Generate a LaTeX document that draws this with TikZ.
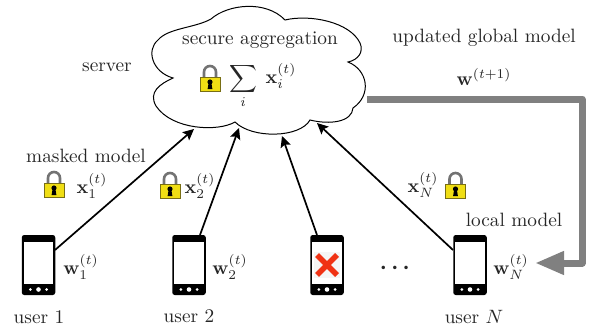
\documentclass[tikz,border=0pt]{standalone}
\usepackage{amsmath,bm}
\usetikzlibrary{arrows.meta}
\definecolor{lockyellow}{RGB}{240,222,20}
\definecolor{lockedge}{RGB}{120,110,20}
\definecolor{flowgray}{RGB}{128,128,128}
\definecolor{xred}{RGB}{240,50,20}
\definecolor{xbg}{RGB}{245,245,245}
\newcommand{\phoneparts}[1]{%
  \fill[white] ([xshift=2.2pt,yshift=-7pt]#1.north west) rectangle ([xshift=-2.2pt,yshift=11pt]#1.south east);
  \fill[white] ([yshift=5.7pt]#1.south) circle (2.3pt);
  \fill[white] ([xshift=-8.2pt,yshift=5.7pt]#1.south) circle (1.5pt);
  \fill[white] ([xshift=8.2pt,yshift=5.7pt]#1.south) circle (1.5pt);
}
\tikzset{
  txt/.style={scale=1.93,text=black!85,inner sep=0pt},
  phonebody/.style={fill=black,rounded corners=2.5pt,minimum width=33.5pt,minimum height=60pt,inner sep=0pt},
  link/.style={line width=1.7pt,draw=black,-{Stealth[length=11pt,width=10.5pt,inset=2pt]}},
  lockbody/.style={fill=lockyellow,draw=lockedge,line width=0.6pt},
  lockarc/.style={draw=black!55,line width=2.6pt},
  lockhole/.style={fill=black},
  lock/.pic={
    \draw[lockarc] (-6,-1) -- (-6,-7) arc[start angle=180,end angle=0,x radius=6pt,y radius=6pt] -- (6,-1);
    \draw[lockbody] (-10,-2) rectangle (10,12);
    \fill[lockhole] (0,3) circle (2.6pt);
    \fill[lockhole] (-1.2,3) -- (1.2,3) -- (2.4,10) -- (-2.4,10) -- cycle;
  }
}
\begin{document}
\begin{tikzpicture}[x=1pt,y=-1pt]
\useasboundingbox (0,0) rectangle (589,329);
% cloud
\draw[fill=white,line width=1pt] (173,78)
  .. controls (152,72) and (146,50) .. (158,40)
  .. controls (168,28) and (195,28) .. (211,19)
  .. controls (228,4) and (266,0) .. (285,20)
  .. controls (310,14) and (350,22) .. (360,43)
  .. controls (364,52) and (358,60) .. (348,62)
  .. controls (368,70) and (372,95) .. (353,108)
  .. controls (352,122) and (330,125) .. (310,120)
  .. controls (300,138) and (252,139) .. (235,122)
  .. controls (218,132) and (172,130) .. (156,106)
  .. controls (148,92) and (160,84) .. (173,78) -- cycle;
\coordinate (cloudA) at (194,129);
\coordinate (cloudB) at (239,128);
\coordinate (cloudC) at (282,136);
\coordinate (cloudD) at (317,123);
% phones
\node[phonebody] (u1) at (38.5,265) {};
\node[phonebody] (u2) at (189,265) {};
\node[phonebody] (u3) at (327,265) {};
\node[phonebody] (uN) at (470,265) {};
\phoneparts{u1}\phoneparts{u2}\phoneparts{u3}\phoneparts{uN}
\fill[xbg] (u3) ++(-13,-13) rectangle ++(26,26);
\draw[xred,line width=5.5pt] (u3) ++(-10,-10) -- ++(20,20);
\draw[xred,line width=5.5pt] (u3) ++(10,-10) -- ++(-20,20);
% connectors
\coordinate (s1) at (55,250);
\coordinate (s2) at (200,235);
\coordinate (s3) at (317,235);
\coordinate (sN) at (453,250);
\draw[link] (s1) -- (cloudA);
\draw[link] (s2) -- (cloudB);
\draw[link] (s3) -- (cloudC);
\draw[link] (sN) -- (cloudD);
% feedback
\coordinate (fb0) at (367,99);
\coordinate (fb1) at (582,99);
\coordinate (fb2) at (582,263);
\coordinate (fb3) at (535,263);
\draw[flowgray,line width=7pt,line join=round,-{Triangle[length=29pt,width=22pt,inset=0pt]}] (fb0) -- (fb1) -- (fb2) -- (fb3);
% text
\node[txt] (tsec) at (260,40) {secure aggregation};
\node[txt] (tsum) at (243,86) {$\displaystyle\sum_{i}$};
\node[txt] (txi) at (281,76) {$\mathbf{x}_i^{(t)}$};
\pic at (210,79) {lock};
\node[txt] (tserver) at (107,67) {server};
\node[txt] (tupd) at (484,38) {updated global model};
\node[txt] (twg) at (484,77) {$\mathbf{w}^{(t+1)}$};
\node[txt] (tmask) at (86,156) {masked model};
\pic at (54,185) {lock};
\node[txt] (tx1) at (92,186) {$\mathbf{x}_1^{(t)}$};
\pic at (170,186) {lock};
\node[txt] (tx2) at (200,186) {$\mathbf{x}_2^{(t)}$};
\node[txt] (txN) at (423,185) {$\mathbf{x}_N^{(t)}$};
\pic at (455.5,186) {lock};
\node[txt] (tlocal) at (514,220) {local model};
\node[txt] (tw1) at (81,267) {$\mathbf{w}_1^{(t)}$};
\node[txt] (tw2) at (230,267) {$\mathbf{w}_2^{(t)}$};
\node[txt] (twN) at (511,267) {$\mathbf{w}_N^{(t)}$};
\node[txt,scale=1.15] (tdots) at (397,268) {$\boldsymbol{\cdots}$};
\node[txt] (tu1) at (39,317) {user 1};
\node[txt] (tu2) at (189,316) {user 2};
\node[txt] (tuN) at (474,317) {user $N$};
\end{tikzpicture}
\end{document}
